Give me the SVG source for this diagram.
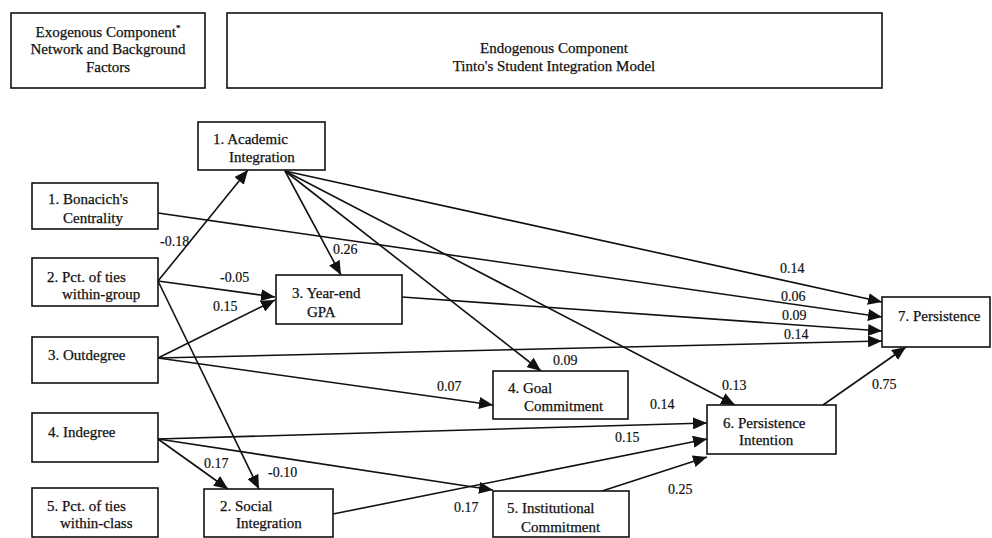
<svg xmlns="http://www.w3.org/2000/svg" width="992" height="538" viewBox="0 0 992 538">
  <style>
    .box { fill: #fff; stroke: #111; stroke-width: 1.6; }
    .t { font-family: "Liberation Serif", "Times New Roman", serif; font-size: 15px; fill: #111; stroke: #111; stroke-width: 0.25; }
    .lbl { font-family: "Liberation Serif", "Times New Roman", serif; font-size: 14px; fill: #111; stroke: #111; stroke-width: 0.2; }
    .edge { fill: none; stroke: #111; stroke-width: 1.6; marker-end: url(#arrow); }
  </style>
  <defs>
    <marker id="arrow" markerUnits="userSpaceOnUse" markerWidth="14" markerHeight="12" refX="14" refY="6" orient="auto">
      <path d="M0,0 L14,6 L0,12 z" fill="#111"/>
    </marker>
  </defs>
  <rect width="992" height="538" fill="#fff"/>

  <!-- header panels -->
  <g id="header-exogenous">
    <rect class="box" x="11" y="13" width="194" height="75"/>
    <text class="t" x="108" y="37" text-anchor="middle">Exogenous Component<tspan font-size="9" dy="-6">*</tspan></text>
    <text class="t" x="108" y="54" text-anchor="middle">Network and Background</text>
    <text class="t" x="108" y="72" text-anchor="middle">Factors</text>
  </g>
  <g id="header-endogenous">
    <rect class="box" x="227" y="13" width="655" height="75"/>
    <text class="t" x="554" y="53" text-anchor="middle">Endogenous Component</text>
    <text class="t" x="554" y="71" text-anchor="middle">Tinto's Student Integration Model</text>
  </g>

  <!-- connectors -->
  <g id="connectors">
    <line class="edge" x1="158" y1="281" x2="248" y2="170"/>
    <line class="edge" x1="158" y1="281" x2="275" y2="297"/>
    <line class="edge" x1="158" y1="358" x2="275" y2="300"/>
    <line class="edge" x1="158" y1="281" x2="259" y2="489"/>
    <line class="edge" x1="158" y1="439" x2="228" y2="489"/>
    <line class="edge" x1="285" y1="171" x2="341" y2="275"/>
    <line class="edge" x1="285" y1="171" x2="541" y2="371"/>
    <line class="edge" x1="285" y1="171" x2="735" y2="405"/>
    <line class="edge" x1="285" y1="171" x2="882" y2="302"/>
    <line class="edge" x1="158" y1="213" x2="882" y2="317"/>
    <line class="edge" x1="402" y1="297" x2="882" y2="331"/>
    <line class="edge" x1="158" y1="358" x2="882" y2="341"/>
    <line class="edge" x1="158" y1="358" x2="493" y2="405"/>
    <line class="edge" x1="158" y1="439" x2="707" y2="423"/>
    <line class="edge" x1="158" y1="439" x2="493" y2="490"/>
    <line class="edge" x1="333" y1="514" x2="707" y2="439"/>
    <line class="edge" x1="602" y1="491" x2="707" y2="457"/>
    <line class="edge" x1="823" y1="405" x2="906" y2="347"/>

    <text class="lbl" x="160" y="246">-0.18</text>
    <text class="lbl" x="220" y="282">-0.05</text>
    <text class="lbl" x="213" y="311">0.15</text>
    <text class="lbl" x="333" y="254">0.26</text>
    <text class="lbl" x="780" y="273">0.14</text>
    <text class="lbl" x="781" y="301">0.06</text>
    <text class="lbl" x="782" y="320">0.09</text>
    <text class="lbl" x="784" y="339">0.14</text>
    <text class="lbl" x="553" y="365">0.09</text>
    <text class="lbl" x="437" y="391">0.07</text>
    <text class="lbl" x="650" y="409">0.14</text>
    <text class="lbl" x="722" y="390">0.13</text>
    <text class="lbl" x="872" y="389">0.75</text>
    <text class="lbl" x="615" y="442">0.15</text>
    <text class="lbl" x="668" y="494">0.25</text>
    <text class="lbl" x="204" y="468">0.17</text>
    <text class="lbl" x="268" y="477">-0.10</text>
    <text class="lbl" x="454" y="512">0.17</text>
  </g>

  <!-- exogenous nodes -->
  <g id="bonacich">
    <rect class="box" x="32" y="183" width="126" height="46"/>
    <text class="t" x="48" y="204">1. Bonacich's</text>
    <text class="t" x="63" y="223">Centrality</text>
  </g>
  <g id="pct-group">
    <rect class="box" x="32" y="258" width="126" height="48"/>
    <text class="t" x="47" y="282">2. Pct. of ties</text>
    <text class="t" x="62" y="299">within-group</text>
  </g>
  <g id="outdegree">
    <rect class="box" x="32" y="337" width="126" height="46"/>
    <text class="t" x="48" y="360">3. Outdegree</text>
  </g>
  <g id="indegree">
    <rect class="box" x="32" y="413" width="126" height="49"/>
    <text class="t" x="48" y="437">4. Indegree</text>
  </g>
  <g id="pct-class">
    <rect class="box" x="32" y="488" width="126" height="49"/>
    <text class="t" x="47" y="511">5. Pct. of ties</text>
    <text class="t" x="60" y="528">within-class</text>
  </g>

  <!-- endogenous nodes -->
  <g id="academic">
    <rect class="box" x="198" y="122" width="127" height="48"/>
    <text class="t" x="213" y="144">1. Academic</text>
    <text class="t" x="229" y="162">Integration</text>
  </g>
  <g id="social">
    <rect class="box" x="204" y="489" width="129" height="48"/>
    <text class="t" x="220" y="511">2. Social</text>
    <text class="t" x="236" y="528">Integration</text>
  </g>
  <g id="gpa">
    <rect class="box" x="276" y="275" width="126" height="49"/>
    <text class="t" x="292" y="298">3. Year-end</text>
    <text class="t" x="307" y="317">GPA</text>
  </g>
  <g id="goal">
    <rect class="box" x="493" y="371" width="135" height="48"/>
    <text class="t" x="508" y="393">4. Goal</text>
    <text class="t" x="524" y="411">Commitment</text>
  </g>
  <g id="institutional">
    <rect class="box" x="493" y="491" width="136" height="46"/>
    <text class="t" x="507" y="513">5. Institutional</text>
    <text class="t" x="521" y="532">Commitment</text>
  </g>
  <g id="persistence-intention">
    <rect class="box" x="707" y="405" width="129" height="49"/>
    <text class="t" x="723" y="428">6. Persistence</text>
    <text class="t" x="739" y="445">Intention</text>
  </g>
  <g id="persistence">
    <rect class="box" x="882" y="297" width="108" height="50"/>
    <text class="t" x="898" y="321">7. Persistence</text>
  </g>
</svg>
